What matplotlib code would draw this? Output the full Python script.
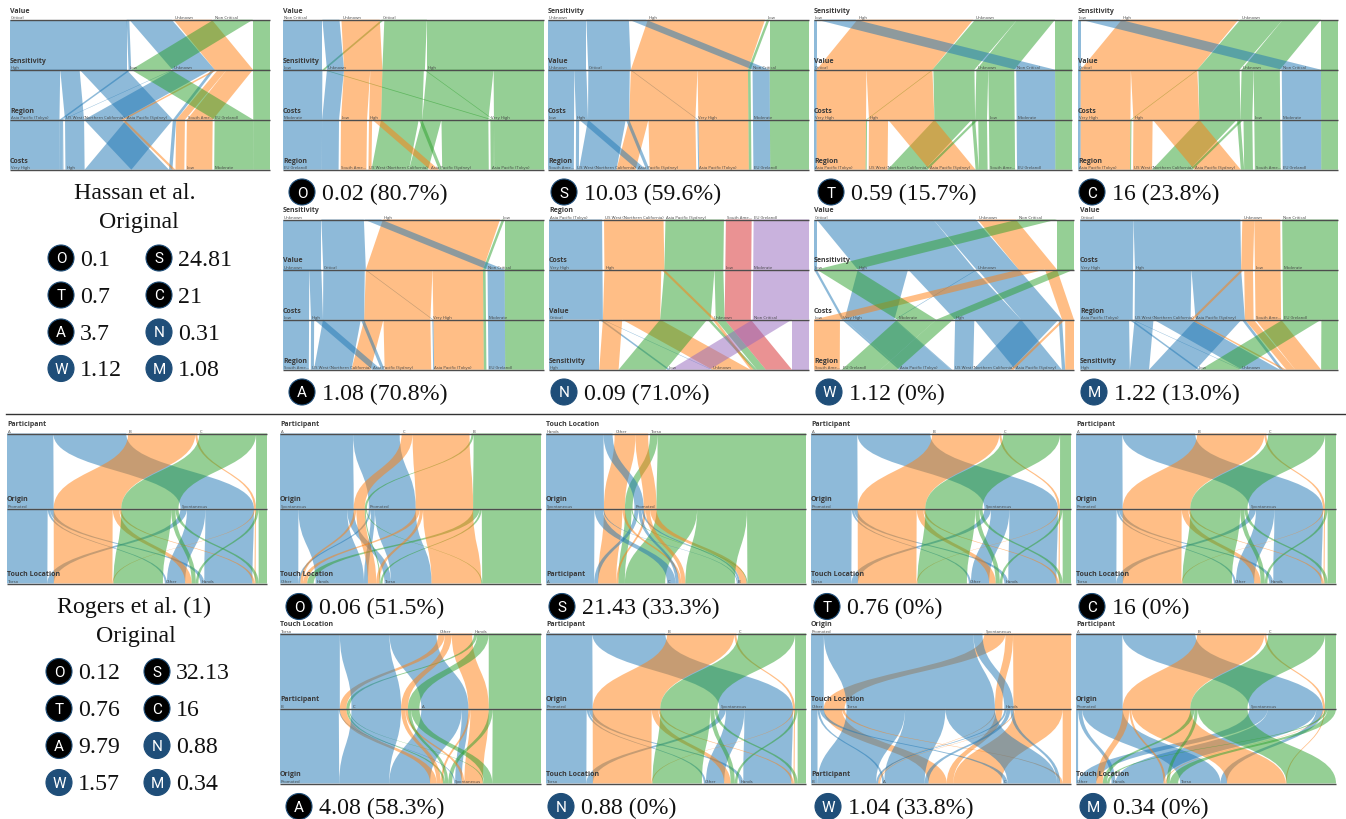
import matplotlib
matplotlib.use("Agg")
import matplotlib.pyplot as plt
from matplotlib.patches import Circle, PathPatch
from matplotlib.path import Path

W, H = 1346, 820
COLORS = ["#1f77b4", "#ff7f0e", "#2ca02c", "#d62728", "#9467bd"]
BADGE_BLACK = "#000000"
BADGE_BLUE = "#1f4e79"

# Joint tables, one value per row (percent of all records)
H_VALUE = ["Critical", "Critical", "Critical", "Critical", "Critical", "Critical", "Critical",
           "Unknown", "Unknown", "Unknown", "Non Critical", "Non Critical"]
H_SENS = ["High", "Low", "Unknown", "High", "Unknown", "High", "Unknown",
          "Unknown", "Unknown", "Unknown", "Low", "Unknown"]
H_REGION = ["Tokyo", "Tokyo", "Tokyo", "USW", "USW", "Sydney", "Sydney",
            "USW", "Sydney", "SA", "EU", "EU"]
H_COSTS = ["Very High", "Very High", "Very High", "High", "High", "High", "High",
           "High", "High", "Low", "Moderate", "Moderate"]
H_SHARE = [19.2, 1.0, 0.4, 7.4, 14.5, 18.0, 1.3, 1.2, 3.4, 10.0, 15.0, 6.5]

R_PART = ["A"] * 6 + ["B"] * 5 + ["C"] * 5
R_ORIGIN = ["Spontaneous", "Spontaneous", "Spontaneous", "Promoted", "Promoted", "Promoted",
            "Spontaneous", "Spontaneous", "Promoted", "Promoted", "Promoted",
            "Spontaneous", "Spontaneous", "Promoted", "Promoted", "Promoted"]
R_TOUCH = ["Hands", "Other", "Torso", "Hands", "Other", "Torso",
           "Hands", "Torso", "Hands", "Other", "Torso",
           "Hands", "Other", "Hands", "Other", "Torso"]
R_SHARE = [18.5, 7.0, 2.5, 1.5, 0.8, 15.5,
           0.4, 0.4, 0.8, 2.5, 22.5,
           3.2, 1.0, 1.2, 1.6, 19.0]

HASSAN = {"Value": H_VALUE, "Sensitivity": H_SENS, "Region": H_REGION, "Costs": H_COSTS}
ROGERS = {"Participant": R_PART, "Origin": R_ORIGIN, "Touch Location": R_TOUCH}

REGION_LABELS = {"Tokyo": "Asia Pacific (Tokyo)", "USW": "US West (Northern California)",
                 "Sydney": "Asia Pacific (Sydney)", "SA": "South Ame...", "EU": "EU (Ireland)"}

# Axis orders of each panel
VAL_A = ["Critical", "Unknown", "Non Critical"]
VAL_B = ["Non Critical", "Unknown", "Critical"]
VAL_C = ["Unknown", "Critical", "Non Critical"]
SEN_A = ["High", "Low", "Unknown"]
SEN_B = ["Low", "Unknown", "High"]
SEN_C = ["Unknown", "High", "Low"]
SEN_D = ["Low", "High", "Unknown"]
REG_A = ["Tokyo", "USW", "Sydney", "SA", "EU"]
REG_B = ["EU", "SA", "USW", "Sydney", "Tokyo"]
REG_C = ["SA", "USW", "Sydney", "Tokyo", "EU"]
REG_D = ["SA", "EU", "Tokyo", "USW", "Sydney"]
COS_A = ["Very High", "High", "Low", "Moderate"]
COS_B = ["Moderate", "Low", "High", "Very High"]
COS_C = ["Low", "High", "Very High", "Moderate"]
COS_D = ["Low", "Very High", "Moderate", "High"]

PAR_A = ["A", "B", "C"]
PAR_B = ["A", "C", "B"]
PAR_C = ["B", "C", "A"]
PAR_D = ["B", "A", "C"]
ORI_A = ["Promoted", "Spontaneous"]
ORI_B = ["Spontaneous", "Promoted"]
TOU_A = ["Torso", "Other", "Hands"]
TOU_B = ["Other", "Hands", "Torso"]
TOU_C = ["Hands", "Other", "Torso"]
TOU_D = ["Other", "Torso", "Hands"]

HASSAN_PANELS = [
    [("Value", VAL_A), ("Sensitivity", SEN_A), ("Region", REG_A), ("Costs", COS_A)],
    [("Value", VAL_B), ("Sensitivity", SEN_B), ("Costs", COS_B), ("Region", REG_B)],
    [("Sensitivity", SEN_C), ("Value", VAL_C), ("Costs", COS_C), ("Region", REG_C)],
    [("Sensitivity", SEN_D), ("Value", VAL_A), ("Costs", COS_A), ("Region", REG_A)],
    [("Sensitivity", SEN_D), ("Value", VAL_A), ("Costs", COS_A), ("Region", REG_A)],
    [("Sensitivity", SEN_C), ("Value", VAL_C), ("Costs", COS_C), ("Region", REG_C)],
    [("Region", REG_A), ("Costs", COS_A), ("Value", VAL_A), ("Sensitivity", SEN_A)],
    [("Value", VAL_A), ("Sensitivity", SEN_D), ("Costs", COS_D), ("Region", REG_D)],
    [("Value", VAL_A), ("Costs", COS_A), ("Region", REG_A), ("Sensitivity", SEN_A)],
]
ROGERS_PANELS = [
    [("Participant", PAR_A), ("Origin", ORI_A), ("Touch Location", TOU_A)],
    [("Participant", PAR_B), ("Origin", ORI_B), ("Touch Location", TOU_B)],
    [("Touch Location", TOU_C), ("Origin", ORI_B), ("Participant", PAR_B)],
    [("Participant", PAR_A), ("Origin", ORI_A), ("Touch Location", TOU_A)],
    [("Participant", PAR_A), ("Origin", ORI_A), ("Touch Location", TOU_A)],
    [("Touch Location", TOU_A), ("Participant", PAR_C), ("Origin", ORI_A)],
    [("Participant", PAR_A), ("Origin", ORI_A), ("Touch Location", TOU_A)],
    [("Origin", ORI_A), ("Touch Location", TOU_D), ("Participant", PAR_D)],
    [("Participant", PAR_A), ("Origin", ORI_A), ("Touch Location", TOU_B)],
]

# Panel rectangles on the page: left, right, top, bottom
HASSAN_RECTS = [(10, 270, 20.7, 170.7), (283, 544, 20.7, 170.7), (548, 809, 20.7, 170.7), (814, 1072, 20.7, 170.7),
                (1078, 1338, 20.7, 170.7), (283, 544, 220.5, 370.7), (549, 809, 220.5, 370.7),
                (814, 1074, 220.5, 370.7), (1080, 1338, 220.5, 370.7)]
ROGERS_RECTS = [(7, 267, 434.5, 584.5), (280, 541, 434.5, 584.5), (546, 806, 434.5, 584.5), (811, 1071, 434.5, 584.5),
                (1076, 1336, 434.5, 584.5), (280, 541, 634.5, 784.5), (546, 806, 634.5, 784.5),
                (811, 1071, 634.5, 784.5), (1076, 1336, 634.5, 784.5)]

HASSAN_LETTERS = ["O", "S", "T", "C", "A", "N", "W", "M"]
HASSAN_ORIG = ["0.1", "24.81", "0.7", "21", "3.7", "0.31", "1.12", "1.08"]
ROGERS_ORIG = ["0.12", "32.13", "0.76", "16", "9.79", "0.88", "1.57", "0.34"]
HASSAN_CAPS = ["0.02 (80.7%)", "10.03 (59.6%)", "0.59 (15.7%)", "16 (23.8%)",
               "1.08 (70.8%)", "0.09 (71.0%)", "1.12 (0%)", "1.22 (13.0%)"]
ROGERS_CAPS = ["0.06 (51.5%)", "21.43 (33.3%)", "0.76 (0%)", "16 (0%)",
               "4.08 (58.3%)", "0.88 (0%)", "1.04 (33.8%)", "0.34 (0%)"]
HASSAN_BADGE_XY = [(302, 193), (564, 193), (831, 193), (1092, 193),
                   (302, 393), (564, 393), (829, 393), (1094, 393)]
ROGERS_BADGE_XY = [(299, 607.5), (562, 607.5), (827, 607.5), (1092, 607.5),
                   (299, 807.5), (561, 807.5), (828, 807.5), (1093, 807.5)]


fig = plt.figure(figsize=(W / 100, H / 100), dpi=100)
page = fig.add_axes([0, 0, 1, 1])
page.set_xlim(0, W)
page.set_ylim(H, 0)
page.axis("off")


def axis_positions(rows, spec, k, shares):
    # stacking at one axis: its own category, then the axes above, then the ones below
    name, cats = spec[k]
    others = [i for i in range(len(spec)) if i != k]

    def key(r):
        return [cats.index(rows[r][name])] + [spec[i][1].index(rows[r][spec[i][0]]) for i in others]

    order = sorted(range(len(rows)), key=key)
    gap = 0.75
    scale = (100 - gap * (len(cats) - 1)) / sum(shares)
    pos = {}
    starts = {}
    x = 0
    last = None
    for r in order:
        cat = rows[r][name]
        if last is not None and cat != last:
            x += gap
        if cat != last:
            starts[cat] = x
        pos[r] = (x, x + shares[r] * scale)
        x = pos[r][1]
        last = cat
    return pos, starts


def ribbon(x0a, x0b, x1a, x1b, y0, y1, curved):
    if curved:
        m = (y0 + y1) / 2
        verts = [(x0a, y0), (x0a, m), (x1a, m), (x1a, y1), (x1b, y1), (x1b, m), (x0b, m), (x0b, y0), (x0a, y0)]
        codes = [Path.MOVETO, Path.CURVE4, Path.CURVE4, Path.CURVE4, Path.LINETO,
                 Path.CURVE4, Path.CURVE4, Path.CURVE4, Path.CLOSEPOLY]
    else:
        verts = [(x0a, y0), (x1a, y1), (x1b, y1), (x0b, y0), (x0a, y0)]
        codes = [Path.MOVETO, Path.LINETO, Path.LINETO, Path.LINETO, Path.CLOSEPOLY]
    return Path(verts, codes)


def draw_panel(rect, table, shares, spec, curved):
    left, right, top, bottom = rect
    ax = fig.add_axes([left / W, 1 - bottom / H, (right - left) / W, (bottom - top) / H])
    ax.set_xlim(0, 100)
    ax.set_ylim(len(spec) - 1, 0)
    ax.axis("off")
    rows = [{d: table[d][i] for d in table} for i in range(len(shares))]
    stacks = [axis_positions(rows, spec, k, shares) for k in range(len(spec))]

    for k in range(len(spec) - 1):
        groups = {}
        for r in range(len(rows)):
            path = tuple(rows[r][spec[i][0]] for i in range(k + 2))
            groups.setdefault(path, []).append(r)
        for path, members in groups.items():
            a = stacks[k][0]
            b = stacks[k + 1][0]
            p = ribbon(min(a[m][0] for m in members), max(a[m][1] for m in members),
                       min(b[m][0] for m in members), max(b[m][1] for m in members),
                       k, k + 1, curved)
            color = COLORS[spec[0][1].index(path[0])]
            ax.add_patch(PathPatch(p, facecolor=color, edgecolor="none", alpha=0.5, clip_on=False))

    for k, (name, cats) in enumerate(spec):
        ax.plot([0, 100], [k, k], color="#4d4d4d", lw=1.0, zorder=5, clip_on=False, solid_capstyle="butt")
        ax.annotate(name, (0, k), xytext=(0, 4.4), textcoords="offset points", fontsize=5.0,
                    fontweight="bold", color="#3a3a3a", family="Open Sans", va="bottom", annotation_clip=False, zorder=6)
        for cat in cats:
            ax.annotate(REGION_LABELS.get(cat, cat), (stacks[k][1][cat], k), xytext=(0.6, 0.6),
                        textcoords="offset points", fontsize=3.1, color="#444444", family="Open Sans",
                        va="bottom", annotation_clip=False, zorder=6)


def badge(x, y, letter):
    dark = letter in "OSTCA"
    page.add_patch(Circle((x, y), 13, facecolor=BADGE_BLACK if dark else BADGE_BLUE,
                          edgecolor=BADGE_BLUE, lw=0.8))
    page.text(x, y + 0.5, letter, color="white", ha="center", va="center", fontsize=11,
              family="Roboto", fontweight="normal")


def serif(x, y, s, ha="left"):
    page.text(x, y + 1.2, s, fontsize=17.2, family="Liberation Serif", ha=ha, va="center", color="#111111")


def left_block(title_x, orig_x, title, title_y, col_x, row_y, values):
    serif(title_x, title_y, title, ha="center")
    serif(orig_x, title_y + 29, "Original", ha="center")
    for i, (letter, val) in enumerate(zip(HASSAN_LETTERS, values)):
        x = col_x[i % 2]
        y = row_y[i // 2]
        badge(x, y, letter)
        serif(x + 19, y, val)


for i, spec in enumerate(HASSAN_PANELS):
    draw_panel(HASSAN_RECTS[i], HASSAN, H_SHARE, spec, False)
for i, spec in enumerate(ROGERS_PANELS):
    draw_panel(ROGERS_RECTS[i], ROGERS, R_SHARE, spec, True)

for (x, y), letter, cap in zip(HASSAN_BADGE_XY, HASSAN_LETTERS, HASSAN_CAPS):
    badge(x, y, letter)
    serif(x + 20, y, cap)
for (x, y), letter, cap in zip(ROGERS_BADGE_XY, HASSAN_LETTERS, ROGERS_CAPS):
    badge(x, y, letter)
    serif(x + 20, y, cap)

left_block(135, 138.5, "Hassan et al.", 192.5, (61, 159), (259, 296, 333, 369.5), HASSAN_ORIG)
left_block(134, 135.5, "Rogers et al. (1)", 606, (59, 157), (672.5, 709.5, 746.5, 783.5), ROGERS_ORIG)

page.plot([6, 1346], [415, 415], color="#333333", lw=1.0)

fig.savefig("out.png", dpi=100)
